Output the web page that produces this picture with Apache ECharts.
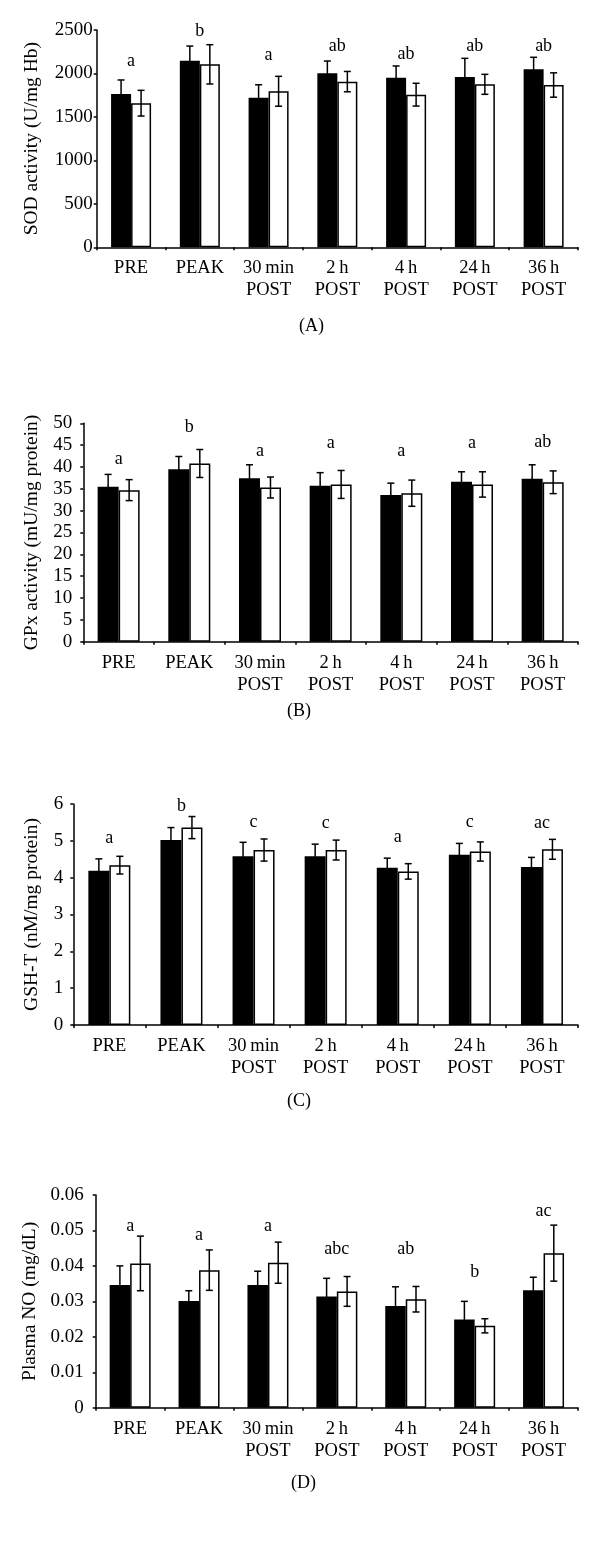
<!DOCTYPE html>
<html>
<head>
<meta charset="utf-8">
<style>html,body{margin:0;padding:0;background:#fff}#c{width:600px;height:1545px}</style>
<script src="https://cdn.jsdelivr.net/npm/echarts@6/dist/echarts.min.js"></script>
</head>
<body>
<div id="c"></div>
<script>
const categories = ['PRE', 'PEAK', '30\u2009min\nPOST', '2\u2009h\nPOST', '4\u2009h\nPOST', '24\u2009h\nPOST', '36\u2009h\nPOST'];

// Panel A: SOD activity (U/mg Hb)
const sodBlack = [1763, 2146, 1720, 2001, 1952, 1959, 2048];
const sodBlackErr = [162, 169, 150, 142, 134, 215, 138];
const sodWhite = [1658, 2105, 1795, 1906, 1756, 1875, 1867];
const sodWhiteErr = [148, 226, 172, 117, 131, 115, 140];
const sodLetters = ['a', 'b', 'a', 'ab', 'ab', 'ab', 'ab'];
const sodLetterY = [2136, 2481, 2212, 2308, 2220, 2308, 2308];
const sodTicks = { min: 0, max: 2500, interval: 500 };

// Panel B: GPx activity (mU/mg protein)
const gpxBlack = [35.5, 39.5, 37.4, 35.7, 33.6, 36.6, 37.3];
const gpxBlackErr = [2.8, 2.9, 3.1, 3.0, 2.7, 2.3, 3.2];
const gpxWhite = [34.7, 40.8, 35.3, 36.0, 34.0, 36.0, 36.5];
const gpxWhiteErr = [2.4, 3.2, 2.4, 3.2, 3.0, 2.9, 2.6];
const gpxLetters = ['a', 'b', 'a', 'a', 'a', 'a', 'ab'];
const gpxLetterY = [41.8, 49.0, 43.7, 45.4, 43.7, 45.4, 45.6];
const gpxTicks = { min: 0, max: 50, interval: 5 };

// Panel C: GSH-T (nM/mg protein)
const gshBlack = [4.19, 5.02, 4.58, 4.58, 4.27, 4.62, 4.29];
const gshBlackErr = [0.32, 0.34, 0.38, 0.33, 0.26, 0.31, 0.26];
const gshWhite = [4.34, 5.36, 4.75, 4.75, 4.17, 4.71, 4.77];
const gshWhiteErr = [0.24, 0.30, 0.30, 0.27, 0.21, 0.26, 0.27];
const gshLetters = ['a', 'b', 'c', 'c', 'a', 'c', 'ac'];
const gshLetterY = [5.07, 5.95, 5.50, 5.48, 5.09, 5.50, 5.48];
const gshTicks = { min: 0, max: 6, interval: 1 };

// Panel D: Plasma NO (mg/dL)
const noBlack = [0.0346, 0.0301, 0.0346, 0.0314, 0.0287, 0.0249, 0.0331];
const noBlackErr = [0.0054, 0.0029, 0.0039, 0.0051, 0.0054, 0.0051, 0.0037];
const noWhite = [0.0407, 0.0388, 0.0409, 0.0328, 0.0306, 0.0231, 0.0436];
const noWhiteErr = [0.0077, 0.0057, 0.0058, 0.0042, 0.0036, 0.0020, 0.0079];
const noLetters = ['a', 'a', 'a', 'abc', 'ab', 'b', 'ac'];
const noLetterY = [0.0511, 0.0487, 0.0511, 0.0447, 0.0447, 0.0381, 0.0553];
const noTicks = { min: 0, max: 0.06, interval: 0.01 };

const FONT = 'Liberation Serif';
const FS = 18;       // letters, captions
const FS_TICK = 19;  // y tick labels
const FS_CAT = 18.5; // category labels
const FS_NAME = 19.5; // axis titles

const panels = [
  { name: 'SOD activity (U/mg Hb)', black: sodBlack, blackErr: sodBlackErr, white: sodWhite, whiteErr: sodWhiteErr,
    letters: sodLetters, letterY: sodLetterY, ticks: sodTicks, caption: '(A)',
    grid: { left: 96.7, top: 30, height: 217.3 }, barW: 20, labelMargin: 4, nameGap: 55, capPos: [313, 328], fmt: v => String(v) },
  { name: 'GPx activity (mU/mg protein)', black: gpxBlack, blackErr: gpxBlackErr, white: gpxWhite, whiteErr: gpxWhiteErr,
    letters: gpxLetters, letterY: gpxLetterY, ticks: gpxTicks, caption: '(B)',
    grid: { left: 83.3, top: 423.3, height: 218.4 }, barW: 21, labelMargin: 11, nameGap: 41.5, capPos: [301, 713], fmt: v => String(v) },
  { name: 'GSH-T (nM/mg protein)', black: gshBlack, blackErr: gshBlackErr, white: gshWhite, whiteErr: gshWhiteErr,
    letters: gshLetters, letterY: gshLetterY, ticks: gshTicks, caption: '(C)',
    grid: { left: 73.3, top: 804, height: 221 }, barW: 21, labelMargin: 10, nameGap: 31.5, capPos: [301, 1103], fmt: v => String(v) },
  { name: 'Plasma NO (mg/dL)', black: noBlack, blackErr: noBlackErr, white: noWhite, whiteErr: noWhiteErr,
    letters: noLetters, letterY: noLetterY, ticks: noTicks, caption: '(D)',
    grid: { left: 95.7, top: 1195, height: 212.7 }, barW: 20.5, labelMargin: 12, nameGap: 54, capPos: [305, 1485],
    fmt: v => (v === 0 ? '0' : v.toFixed(2)) }
];

function errRender(sign, barW) {
  return function (params, api) {
    const i = api.value(0), v = api.value(1), e = api.value(2);
    const top = api.coord([i, v + e]);
    const bot = api.coord([i, v - e]);
    const x = top[0] + sign * barW / 2;
    const cw = 3.5;
    const st = { stroke: '#000', lineWidth: 1.5 };
    return {
      type: 'group',
      children: [
        { type: 'line', shape: { x1: x, y1: top[1], x2: x, y2: bot[1] }, style: st },
        { type: 'line', shape: { x1: x - cw, y1: top[1], x2: x + cw, y2: top[1] }, style: st },
        { type: 'line', shape: { x1: x - cw, y1: bot[1], x2: x + cw, y2: bot[1] }, style: st }
      ]
    };
  };
}

function letterRender(letters) {
  return function (params, api) {
    const p = api.coord([api.value(0), api.value(1)]);
    return {
      type: 'text',
      style: { text: letters[params.dataIndex], x: p[0], y: p[1], textAlign: 'center', textVerticalAlign: 'middle',
        fill: '#000', font: FS + 'px "' + FONT + '"' }
    };
  };
}

const grid = [], xAxis = [], yAxis = [], series = [], graphic = [];
panels.forEach((p, k) => {
  grid.push({ left: p.grid.left, right: 22, top: p.grid.top, height: p.grid.height, containLabel: false });
  xAxis.push({
    type: 'category', gridIndex: k, data: categories,
    axisLine: { lineStyle: { color: '#000', width: 1.5 } },
    axisTick: { show: true, length: 3, lineStyle: { color: '#000', width: 1.5 } },
    axisLabel: { color: '#000', fontFamily: FONT, fontSize: FS_CAT, lineHeight: 22, margin: 10, interval: 0 },
    splitLine: { show: false }
  });
  yAxis.push({
    type: 'value', gridIndex: k, min: p.ticks.min, max: p.ticks.max, interval: p.ticks.interval,
    name: p.name, nameLocation: 'middle', nameRotate: 90, nameGap: p.nameGap,
    nameTextStyle: { color: '#000', fontFamily: FONT, fontSize: FS_NAME },
    axisLine: { show: true, lineStyle: { color: '#000', width: 1.5 } },
    axisTick: { show: true, length: 3, lineStyle: { color: '#000', width: 1.5 } },
    axisLabel: { color: '#000', fontFamily: FONT, fontSize: FS_TICK, margin: p.labelMargin, formatter: p.fmt },
    splitLine: { show: false }
  });
  series.push({
    type: 'bar', xAxisIndex: k, yAxisIndex: k, data: p.black, barWidth: p.barW, barGap: '0%',
    itemStyle: { color: '#000' }, silent: true, animation: false
  });
  series.push({
    type: 'bar', xAxisIndex: k, yAxisIndex: k, data: p.white, barWidth: p.barW, barGap: '0%',
    itemStyle: { color: '#fff', borderColor: '#000', borderWidth: 1.5 }, silent: true, animation: false
  });
  series.push({
    type: 'custom', xAxisIndex: k, yAxisIndex: k, z: 5, animation: false, silent: true,
    renderItem: errRender(-1, p.barW), data: p.black.map((v, i) => [i, v, p.blackErr[i]])
  });
  series.push({
    type: 'custom', xAxisIndex: k, yAxisIndex: k, z: 5, animation: false, silent: true,
    renderItem: errRender(1, p.barW), data: p.white.map((v, i) => [i, v, p.whiteErr[i]])
  });
  series.push({
    type: 'custom', xAxisIndex: k, yAxisIndex: k, z: 6, animation: false, silent: true,
    renderItem: letterRender(p.letters), data: p.letterY.map((v, i) => [i, v])
  });
  graphic.push({
    type: 'text', left: p.capPos[0] - 14, top: p.capPos[1] - 11,
    style: { text: p.caption, fill: '#000', font: FS + 'px "' + FONT + '"' }
  });
});

const chart = echarts.init(document.getElementById('c'), null, { renderer: 'canvas' });
chart.setOption({ animation: false, backgroundColor: '#fff', grid, xAxis, yAxis, series, graphic });
</script>
</body>
</html>
